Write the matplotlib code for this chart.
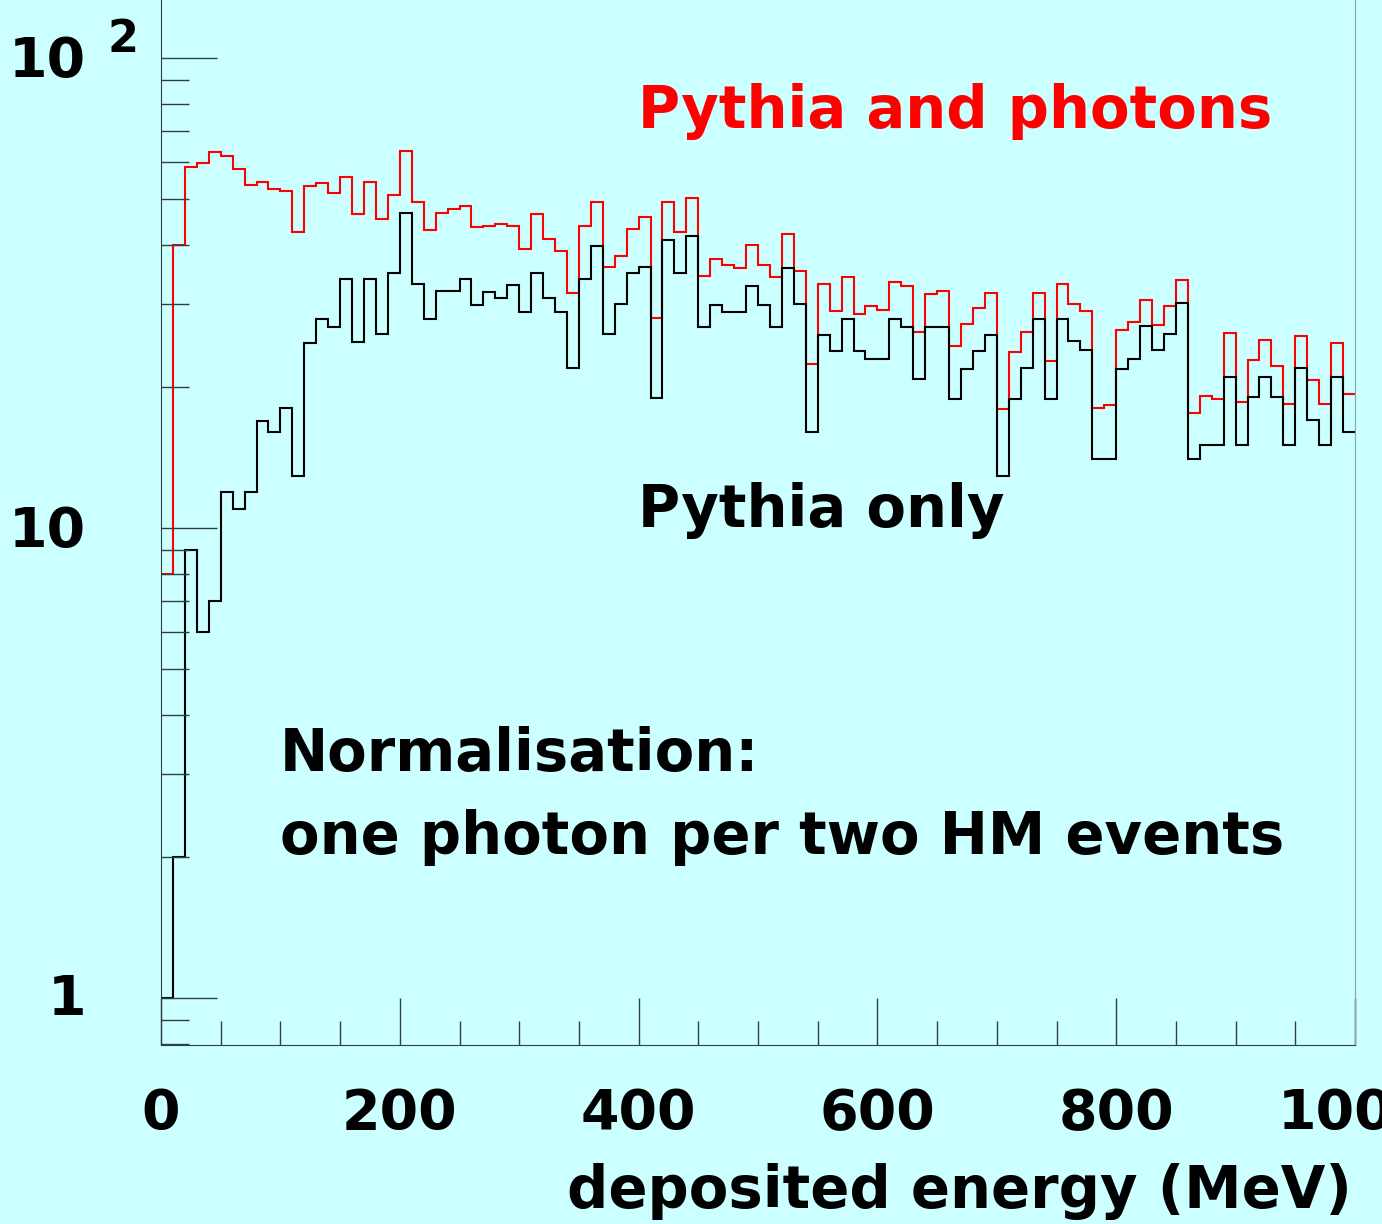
import matplotlib.pyplot as plt
import numpy as np

# deposited energy histogram, 100 bins of 10 MeV
bin_edges = np.arange(0, 1001, 10)

pythia_photons = [
    8.0, 40.0, 58.5, 59.7, 63.2, 61.9, 58.1, 53.8, 54.5, 52.7,
    52.0, 42.6, 53.5, 54.3, 51.6, 55.7, 46.6, 54.4, 45.4, 51.1,
    63.5, 49.3, 43.0, 46.8, 47.7, 48.5, 43.8, 44.0, 44.4, 44.0,
    39.3, 46.6, 41.3, 38.9, 31.6, 43.9, 49.4, 36.0, 38.0, 43.3,
    45.8, 28.0, 49.4, 42.6, 50.4, 34.4, 37.4, 36.2, 35.7, 40.0,
    36.2, 34.2, 42.2, 35.3, 22.3, 33.0, 29.0, 34.2, 28.5, 29.7,
    29.1, 33.4, 32.7, 26.1, 31.5, 31.9, 24.4, 27.2, 29.4, 31.7,
    17.9, 23.7, 26.1, 31.6, 22.7, 33.0, 30.0, 28.9, 18.0, 18.3,
    26.4, 27.5, 30.6, 27.0, 29.7, 33.7, 17.6, 19.1, 18.8, 26.0,
    18.5, 22.8, 25.1, 22.1, 18.4, 25.6, 20.6, 18.4, 24.8, 19.3,
]

pythia_only = [
    1.0, 2.0, 9.0, 6.0, 7.0, 11.9, 11.0, 11.9, 16.9, 16.0,
    18.0, 12.9, 24.8, 27.8, 26.8, 33.8, 24.9, 33.8, 25.9, 34.9,
    46.8, 33.0, 27.9, 31.9, 31.9, 33.8, 29.8, 31.8, 30.9, 32.9,
    28.8, 34.9, 30.9, 28.8, 21.9, 33.9, 39.9, 25.9, 30.0, 34.9,
    35.9, 18.9, 40.9, 34.9, 41.8, 26.8, 29.8, 28.8, 28.8, 32.8,
    29.8, 26.8, 35.8, 29.9, 16.0, 25.8, 23.8, 27.8, 23.8, 22.9,
    22.9, 27.8, 26.8, 20.8, 26.8, 26.8, 18.8, 21.8, 23.8, 25.8,
    12.9, 18.8, 21.9, 27.9, 18.8, 27.9, 25.0, 23.9, 14.0, 14.0,
    21.8, 22.9, 26.9, 23.9, 25.9, 30.1, 14.0, 15.0, 15.0, 21.0,
    15.0, 19.0, 21.0, 19.0, 15.0, 21.9, 17.0, 15.0, 21.0, 16.0,
]

x_ticks = [0, 200, 400, 600, 800, 1000]
x_tick_labels = ['0', '200', '400', '600', '800', '1000']

W, H = 1382, 1224
bg = '#ccffff'
fig = plt.figure(figsize=(W / 100, H / 100), dpi=100, facecolor=bg)
ax = fig.add_axes([161 / W, 179 / H, 1194 / W, 1045 / H], facecolor=bg)

ax.stairs(pythia_photons, bin_edges, baseline=None, color='red', linewidth=1.5)
ax.stairs(pythia_only, bin_edges, baseline=None, color='black', linewidth=1.5)

ax.set_yscale('log')
ax.set_xlim(0, 1000)
ax.set_ylim(10 ** -0.1, 10 ** 2.1234)

ax.spines['top'].set_visible(False)
ax.spines['right'].set_color('#90a0a0')
ax.spines['right'].set_linewidth(0.8)
ax.spines['left'].set_color('#304040')
ax.spines['bottom'].set_color('#304040')

tf = dict(fontweight='bold', fontfamily='DejaVu Sans')

# tick lengths are in points (px * 0.72)
ax.set_xticks(x_ticks)
ax.set_xticks(np.arange(0, 1001, 50), minor=True)
ax.tick_params(axis='x', which='major', direction='in', length=34, width=1, color='#304040',
               pad=30, labelsize=40)
ax.tick_params(axis='x', which='minor', direction='in', length=17, width=1, color='#304040')
ax.set_xticklabels(x_tick_labels, **tf)
ax.tick_params(axis='y', which='major', direction='in', length=40, width=1, color='#304040')
ax.tick_params(axis='y', which='minor', direction='in', length=20, width=1, color='#304040')
ax.set_yticklabels([], minor=True)
ax.set_yticks([1, 10, 100])
ax.set_yticklabels([])


def fx(px):
    return px / W


def fy(py):
    return 1 - py / H


fig.text(fx(86), fy(1000), '1', ha='right', va='center', fontsize=40, **tf)
fig.text(fx(86), fy(532), '10', ha='right', va='center', fontsize=40, **tf)
fig.text(fx(86), fy(62), '10', ha='right', va='center', fontsize=40, **tf)
fig.text(fx(108), fy(40), '2', ha='left', va='center', fontsize=32, **tf)

fig.text(fx(638), fy(112), 'Pythia and photons', color='red', fontsize=41.5,
         ha='left', va='center', **tf)
fig.text(fx(638), fy(510), 'Pythia only', color='black', fontsize=41.5,
         ha='left', va='center', **tf)
fig.text(fx(280), fy(755), 'Normalisation:', color='black', fontsize=41.5,
         ha='left', va='center', **tf)
fig.text(fx(280), fy(838), 'one photon per two HM events', color='black', fontsize=41.5,
         ha='left', va='center', **tf)

fig.text(fx(1352), fy(1192), 'deposited energy (MeV)', ha='right', va='center',
         fontsize=41.5, **tf)

fig.savefig('out.png', dpi=100, facecolor=bg)
